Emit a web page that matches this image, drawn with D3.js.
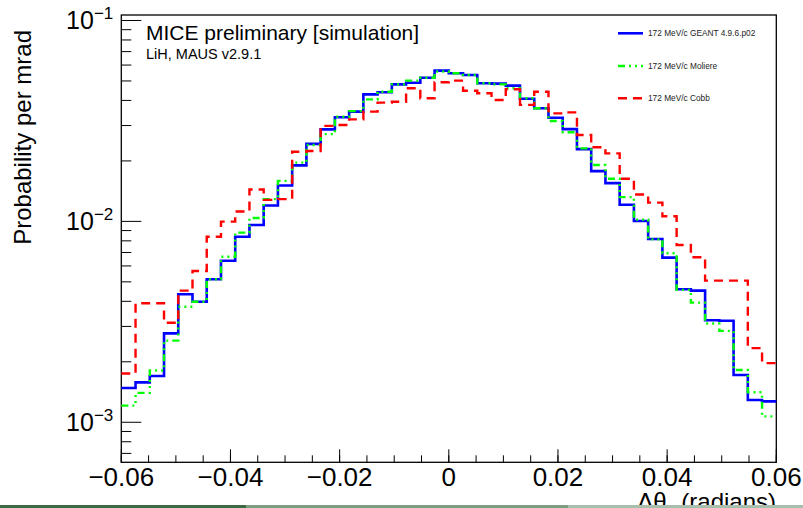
<!DOCTYPE html>
<html>
<head>
<meta charset="utf-8">
<script src="https://cdn.jsdelivr.net/npm/d3@7"></script>
<style>
  body { margin: 0; background: #fff; }
  svg { display: block; font-family: "Liberation Sans", Arial, sans-serif; }
</style>
</head>
<body>
<svg width="803" height="508"></svg>
<script>
// histogram binning: 46 bins over [-0.06, 0.06]
const xRange = [-0.06, 0.06];
const nBins = 46;

const seriesNames = ["172 MeV/c GEANT 4.9.6.p02", "172 MeV/c Moliere", "172 MeV/c Cobb"];

const geant = [
  1.48e-3, 1.58e-3, 1.70e-3, 2.77e-3, 4.34e-3, 3.98e-3, 5.15e-3, 6.37e-3, 8.39e-3, 9.60e-3,
  1.20e-2, 1.51e-2, 1.90e-2, 2.43e-2, 2.87e-2, 3.30e-2, 3.52e-2, 4.29e-2, 4.39e-2, 4.81e-2,
  4.90e-2, 5.19e-2, 5.63e-2, 5.46e-2, 5.35e-2, 4.87e-2, 4.85e-2, 4.74e-2, 4.08e-2, 3.66e-2,
  3.28e-2, 2.88e-2, 2.29e-2, 1.78e-2, 1.55e-2, 1.21e-2, 1.005e-2, 8.17e-3, 6.60e-3, 4.59e-3,
  4.52e-3, 3.22e-3, 3.20e-3, 1.72e-3, 1.29e-3, 1.27e-3
];

const moliere = [
  1.21e-3, 1.40e-3, 1.81e-3, 2.55e-3, 3.76e-3, 3.98e-3, 5.15e-3, 6.67e-3, 8.79e-3, 1.04e-2,
  1.29e-2, 1.59e-2, 1.96e-2, 2.40e-2, 2.72e-2, 3.32e-2, 3.54e-2, 4.05e-2, 4.42e-2, 4.81e-2,
  5.02e-2, 5.19e-2, 5.57e-2, 5.46e-2, 5.35e-2, 4.87e-2, 4.81e-2, 4.60e-2, 4.10e-2, 3.66e-2,
  3.16e-2, 2.78e-2, 2.31e-2, 1.91e-2, 1.63e-2, 1.32e-2, 1.02e-2, 8.14e-3, 6.94e-3, 4.56e-3,
  3.94e-3, 3.10e-3, 2.85e-3, 1.82e-3, 1.41e-3, 1.07e-3
];

const cobb = [
  1.75e-3, 3.91e-3, 3.91e-3, 3.13e-3, 4.52e-3, 5.66e-3, 8.39e-3, 9.97e-3, 1.12e-2, 1.44e-2,
  1.28e-2, 1.29e-2, 2.22e-2, 2.24e-2, 2.99e-2, 3.02e-2, 3.22e-2, 3.52e-2, 3.90e-2, 3.94e-2,
  4.60e-2, 4.10e-2, 4.93e-2, 5.02e-2, 4.47e-2, 4.34e-2, 4.02e-2, 4.55e-2, 3.80e-2, 4.42e-2,
  3.45e-2, 3.49e-2, 2.69e-2, 2.34e-2, 2.18e-2, 1.63e-2, 1.36e-2, 1.24e-2, 1.06e-2, 7.63e-3,
  6.63e-3, 5.07e-3, 5.07e-3, 5.07e-3, 2.34e-3, 1.97e-3
];

const xTickLabels = ["\u22120.06", "\u22120.04", "\u22120.02", "0", "0.02", "0.04", "0.06"];
const yTickExps = ["\u22121", "\u22122", "\u22123"];

const svg = d3.select("svg");
const padL = 121.3, padR = 776.3, padT = 15, padB = 462.3;

const x = d3.scaleLinear().domain(xRange).range([padL, padR]);
const y = d3.scaleLog().domain([6.32e-4, 0.1065]).range([padB, padT]);

// x axis: major ticks every 0.02, minor every 0.005
const xMajor = d3.range(7).map(i => -0.06 + i * 0.02);
const xMinor = d3.range(25).map(i => -0.06 + i * 0.005);

const gx = svg.append("g").attr("transform", `translate(0,${padB})`);
gx.selectAll("line.minor").data(xMinor).enter().append("line")
  .attr("x1", d => x(d)).attr("x2", d => x(d))
  .attr("y1", 0).attr("y2", -7)
  .attr("stroke", "#000").attr("stroke-width", 1);
gx.selectAll("line.major").data(xMajor).enter().append("line")
  .attr("x1", d => x(d)).attr("x2", d => x(d))
  .attr("y1", 0).attr("y2", -13)
  .attr("stroke", "#000").attr("stroke-width", 1);
gx.selectAll("text").data(xMajor).enter().append("text")
  .attr("x", d => x(d)).attr("y", 24)
  .attr("text-anchor", "middle")
  .attr("font-size", 26)
  .text((d, i) => xTickLabels[i]);

// y axis: decades and 2..9 minor ticks
const yMajor = [1e-1, 1e-2, 1e-3];
const yMinor = [];
[1e-4, 1e-3, 1e-2].forEach(dec => {
  for (let k = 2; k <= 9; k++) {
    const v = dec * k;
    if (v >= y.domain()[0] && v <= y.domain()[1]) yMinor.push(v);
  }
});

const gy = svg.append("g").attr("transform", `translate(${padL},0)`);
gy.selectAll("line.minor").data(yMinor).enter().append("line")
  .attr("x1", 0).attr("x2", 10)
  .attr("y1", d => y(d)).attr("y2", d => y(d))
  .attr("stroke", "#000").attr("stroke-width", 1);
gy.selectAll("line.major").data(yMajor).enter().append("line")
  .attr("x1", 0).attr("x2", 20)
  .attr("y1", d => y(d)).attr("y2", d => y(d))
  .attr("stroke", "#000").attr("stroke-width", 1);

const ylab = gy.selectAll("text").data(yMajor).enter().append("text")
  .attr("x", -8).attr("y", d => y(d) + 9)
  .attr("text-anchor", "end")
  .attr("font-size", 25);
ylab.append("tspan").text("10");
ylab.append("tspan").attr("dy", -10).attr("font-size", 17).text((d, i) => yTickExps[i]);

// frame
svg.append("rect")
  .attr("x", padL).attr("y", padT)
  .attr("width", padR - padL).attr("height", padB - padT)
  .attr("fill", "none").attr("stroke", "#000").attr("stroke-width", 1.3);

// histograms
const edges = d3.range(nBins + 1).map(i => xRange[0] + i * (xRange[1] - xRange[0]) / nBins);
const line = d3.line().x(d => x(d[0])).y(d => y(d[1])).curve(d3.curveStepAfter);
const toPts = vals => vals.map((v, i) => [edges[i], v]).concat([[edges[nBins], vals[nBins - 1]]]);

const styles = [
  { vals: geant, color: "#0000ff", dash: null, w: 2.6 },
  { vals: moliere, color: "#00ff00", dash: "7,4,2,4,2,4,2,4", w: 2.4 },
  { vals: cobb, color: "#ff0000", dash: "9,6", w: 2.4 }
];

styles.forEach(s => {
  svg.append("path")
    .attr("d", line(toPts(s.vals)))
    .attr("fill", "none")
    .attr("stroke", s.color)
    .attr("stroke-width", s.w)
    .attr("stroke-dasharray", s.dash);
});

// legend
const legY = [33.3, 66, 98.3];
const leg = svg.append("g");
styles.forEach((s, i) => {
  leg.append("line")
    .attr("x1", 618).attr("x2", 643)
    .attr("y1", legY[i]).attr("y2", legY[i])
    .attr("stroke", s.color).attr("stroke-width", s.w)
    .attr("stroke-dasharray", s.dash);
  leg.append("text")
    .attr("x", 648).attr("y", legY[i] + 3)
    .attr("font-size", 8.3).attr("fill", "#222")
    .text(seriesNames[i]);
});

// labels
svg.append("text").attr("x", 146).attr("y", 40).attr("font-size", 21)
  .text("MICE preliminary [simulation]");
svg.append("text").attr("x", 146).attr("y", 58.5).attr("font-size", 14.5)
  .text("LiH, MAUS v2.9.1");

svg.append("text")
  .attr("transform", "translate(31,30) rotate(-90)")
  .attr("text-anchor", "end")
  .attr("font-size", 24)
  .text("Probability per mrad");

const xt = svg.append("text")
  .attr("x", 776).attr("y", 510)
  .attr("text-anchor", "end")
  .attr("font-size", 24);
xt.append("tspan").text("\u0394\u03b8");
xt.append("tspan").attr("dy", 6).attr("font-size", 16).text("y");
xt.append("tspan").attr("dy", -6).text(" (radians)");

// footer strip
const strip = [[0, 246, "#3b6a45"], [246, 568, "#7d9e83"], [568, 803, "#a8c0ab"]];
svg.selectAll("rect.strip").data(strip).enter().append("rect")
  .attr("x", d => d[0]).attr("width", d => d[1] - d[0])
  .attr("y", 505).attr("height", 3)
  .attr("fill", d => d[2]);
</script>
</body>
</html>
